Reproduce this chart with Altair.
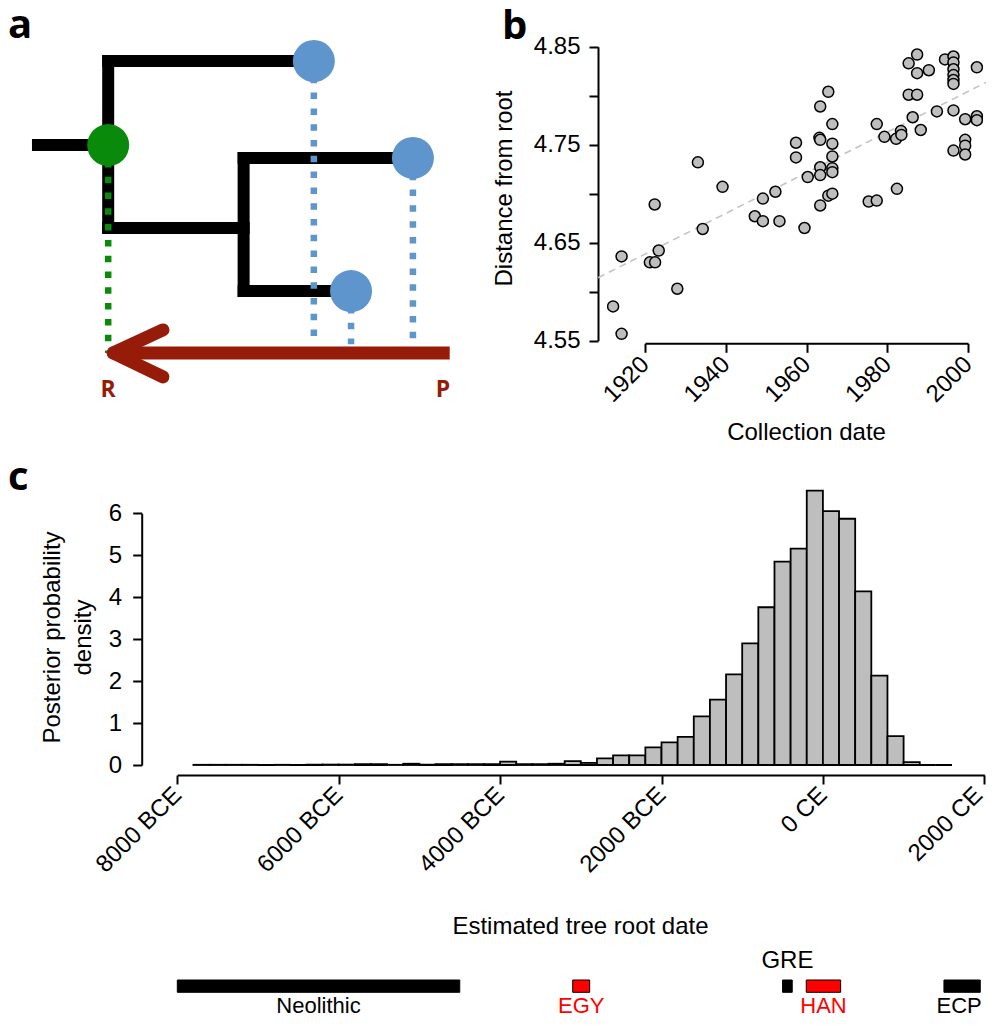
import altair as alt
import pandas as pd

W, H = 978, 1010
FONT = "Liberation Sans"
GREY = "#BEBEBE"
DARKRED = "#961B09"

# ---------------- panel a : schematic tree (abstract units) ----------------
branch_x1 = [0.15, 1.83, 1.83, 1.83, 5.07, 5.07, 5.07]
branch_x2 = [1.83, 1.83, 6.75, 5.07, 5.07, 9.12, 7.64]
branch_y1 = [2.88, 0.00, 0.00, 5.72, 3.32, 3.32, 7.88]
branch_y2 = [2.88, 5.72, 0.00, 5.72, 7.88, 3.32, 7.88]

node_x = [1.83, 6.75, 9.12, 7.64]
node_y = [2.88, 0.00, 3.32, 7.88]
node_kind = ["root", "tip", "tip", "tip"]
drop_end = [10.0, 9.7, 9.7, 9.7]

shaft_x1 = [10.0]
shaft_x2 = [1.95]
shaft_y = [10.0]
head_x1 = [1.95, 1.95]
head_x2 = [3.14, 3.14]
head_y1 = [10.0, 10.0]
head_y2 = [9.21, 10.82]

rp_text = ["R", "P"]
rp_x = [1.83, 9.84]
rp_y = [11.27, 11.27]

# ---------------- panel b : root-to-tip regression ----------------
b_year = [1912.1, 1914.2, 1914.2, 1922.4, 1921.2, 1922.5, 1923.4, 1928.0, 1933.1, 1934.3,
          1939.2, 1947.2, 1949.2, 1949.2, 1952.3, 1953.3, 1957.4, 1957.4, 1959.5, 1960.3,
          1963.4, 1963.2, 1963.4, 1963.4, 1963.4, 1963.4, 1965.4, 1965.4, 1966.4, 1966.4,
          1966.4, 1966.4, 1966.4, 1966.4, 1975.4, 1977.4, 1977.4, 1979.3, 1982.2, 1983.4,
          1983.5, 1982.4, 1985.3, 1987.4, 1985.3, 1987.4, 1987.4, 1990.3, 1986.3, 1988.3,
          1992.3, 1994.3, 1996.4, 1996.4, 1996.4, 1996.4, 1996.4, 1996.4, 1996.4, 1996.4,
          1999.3, 1999.3, 1999.3, 1999.3, 2002.2, 2002.2, 2002.2]
b_dist = [4.585, 4.557, 4.636, 4.689, 4.630, 4.630, 4.642, 4.603, 4.732, 4.664,
          4.707, 4.677, 4.695, 4.672, 4.702, 4.672, 4.752, 4.737, 4.665, 4.717,
          4.789, 4.757, 4.755, 4.727, 4.719, 4.688, 4.804, 4.698, 4.771, 4.751,
          4.738, 4.726, 4.722, 4.700, 4.692, 4.693, 4.771, 4.758, 4.756, 4.764,
          4.760, 4.705, 4.801, 4.801, 4.833, 4.842, 4.823, 4.826, 4.778, 4.765,
          4.784, 4.837, 4.840, 4.834, 4.827, 4.821, 4.816, 4.812, 4.785, 4.744,
          4.776, 4.755, 4.749, 4.740, 4.829, 4.779, 4.775]
fit_year = [1908.4, 2006.4]
fit_dist = [4.6143, 4.8176]
b_xticks = [1920, 1940, 1960, 1980, 2000]
b_yticks = [4.55, 4.60, 4.65, 4.70, 4.75, 4.80, 4.85]
b_ylabelled = ["4.55", "4.65", "4.75", "4.85"]

# ---------------- panel c : root date posterior ----------------
bin_start = [-7800, -7600, -7400, -7200, -7000, -6800, -6600, -6400, -6200, -6000,
             -5800, -5600, -5400, -5200, -5000, -4800, -4600, -4400, -4200, -4000,
             -3800, -3600, -3400, -3200, -3000, -2800, -2600, -2400, -2200, -2000,
             -1800, -1600, -1400, -1200, -1000, -800, -600, -400, -200, 0,
             200, 400, 600, 800, 1000, 1200, 1400]
density = [0.005, 0.005, 0.005, 0.005, 0.005, 0.005, 0.005, 0.01, 0.01, 0.01,
           0.02, 0.02, 0.005, 0.03, 0.01, 0.02, 0.02, 0.02, 0.02, 0.08,
           0.02, 0.02, 0.03, 0.09, 0.05, 0.16, 0.23, 0.23, 0.42, 0.54,
           0.67, 1.16, 1.56, 2.16, 2.90, 3.76, 4.85, 5.16, 6.54, 6.05,
           5.87, 4.14, 2.13, 0.69, 0.07, 0.0, 0.0]
bin_width = 200

period_name = ["Neolithic", "EGY", "GRE", "HAN", "ECP"]
period_start = [-8000, -3100, -500, -206, 1500]
period_end = [-4500, -2890, -380, 220, 1950]
period_group = ["other", "highlight", "other", "highlight", "other"]

c_xticks = [-8000, -6000, -4000, -2000, 0, 2000]
c_yticks = [0, 1, 2, 3, 4, 5, 6]

# ======================= panel a =======================
a_x = alt.Scale(domain=[0, 10], range=[23.7, 441.7], nice=False, zero=False, padding=0)
a_y = alt.Scale(domain=[0, 10], range=[53, 345], nice=False, zero=False, padding=0)
kind_col = alt.Scale(domain=["root", "tip"], range=["#0A8A0A", "#5E95CD"])

branches = pd.DataFrame({"x1": branch_x1, "x2": branch_x2, "y1": branch_y1, "y2": branch_y2})
nodes = pd.DataFrame({"x": node_x, "y": node_y, "kind": node_kind, "yend": drop_end})
shaft = pd.DataFrame({"x1": shaft_x1, "x2": shaft_x2, "y": shaft_y})
head = pd.DataFrame({"x1": head_x1, "x2": head_x2, "y1": head_y1, "y2": head_y2})
rp = pd.DataFrame({"t": rp_text, "x": rp_x, "y": rp_y})

tree = alt.Chart(branches).mark_rule(strokeWidth=12, strokeCap="square", color="black").encode(
    x=alt.X("x1:Q", scale=a_x, axis=None), x2="x2:Q",
    y=alt.Y("y1:Q", scale=a_y, axis=None), y2="y2:Q")
drops = alt.Chart(nodes).mark_rule(strokeWidth=6.5, strokeDash=[6.5, 9.3]).encode(
    x=alt.X("x:Q", scale=a_x, axis=None),
    y=alt.Y("y:Q", scale=a_y, axis=None), y2="yend:Q",
    color=alt.Color("kind:N", scale=kind_col, legend=None))
circles = alt.Chart(nodes).mark_circle(size=1764, opacity=1).encode(
    x=alt.X("x:Q", scale=a_x, axis=None),
    y=alt.Y("y:Q", scale=a_y, axis=None),
    color=alt.Color("kind:N", scale=kind_col, legend=None))
arrow_shaft = alt.Chart(shaft).mark_rule(strokeWidth=13, strokeCap="butt", color=DARKRED).encode(
    x=alt.X("x1:Q", scale=a_x, axis=None), x2="x2:Q",
    y=alt.Y("y:Q", scale=a_y, axis=None))
arrow_head = alt.Chart(head).mark_rule(strokeWidth=13, strokeCap="round", color=DARKRED).encode(
    x=alt.X("x1:Q", scale=a_x, axis=None), x2="x2:Q",
    y=alt.Y("y1:Q", scale=a_y, axis=None), y2="y2:Q")
rp_labels = alt.Chart(rp).mark_text(font="Open Sans", fontWeight="bold", fontSize=23,
                                    color=DARKRED, baseline="middle", align="center").encode(
    x=alt.X("x:Q", scale=a_x, axis=None),
    y=alt.Y("y:Q", scale=a_y, axis=None), text="t:N")
panel_a = alt.layer(tree, drops, circles, arrow_shaft, arrow_head, rp_labels)

# ======================= panel b =======================
b_x = alt.Scale(domain=[1920, 2000], range=[637, 960], nice=False, zero=False, padding=0)
b_y = alt.Scale(domain=[4.55, 4.85], range=[332.7, 38.7], nice=False, zero=False, padding=0)
b_x_axis = alt.Axis(orient="bottom", offset=335.3 - H, values=b_xticks,
                    format="d", labelAngle=-45, labelAlign="right", labelBaseline="middle",
                    labelPadding=8,
                    title="Collection date", titleX=798, titleY=89,
                    titleAlign="center", titleBaseline="middle")
lab_list = "[" + ",".join(f"'{s}'" for s in b_ylabelled) + "]"
b_y_axis = alt.Axis(orient="left", offset=-590, values=b_yticks,
                    labelExpr=f"indexof({lab_list}, format(datum.value, '.2f')) >= 0 ? format(datum.value, '.2f') : ''",
                    labelPadding=9,
                    title="Distance from root", titleAngle=270, titleX=-94, titleY=180,
                    titleAlign="center", titleBaseline="middle")
pts = pd.DataFrame({"year": b_year, "dist": b_dist})
fit = pd.DataFrame({"year": fit_year, "dist": fit_dist})

fit_line = alt.Chart(fit).mark_line(color="#C4C4C4", strokeDash=[7, 5], strokeWidth=1.6).encode(
    x=alt.X("year:Q", scale=b_x, axis=b_x_axis),
    y=alt.Y("dist:Q", scale=b_y, axis=b_y_axis))
points = alt.Chart(pts).mark_point(shape="circle", filled=True, fill=GREY, stroke="black",
                                   strokeWidth=1.5, size=121, opacity=1).encode(
    x=alt.X("year:Q", scale=b_x, axis=b_x_axis),
    y=alt.Y("dist:Q", scale=b_y, axis=b_y_axis))
panel_b = alt.layer(fit_line, points)

# ======================= panel c =======================
c_x = alt.Scale(domain=[-8000, 2000], range=[169.3, 976.3], nice=False, zero=False, padding=0)
c_y = alt.Scale(domain=[0, 6], range=[757, 505.3], nice=False, zero=False, padding=0)
c_x_axis = alt.Axis(orient="bottom", offset=767 - H, values=c_xticks,
                    labelExpr="datum.value < 0 ? (-datum.value) + ' BCE' : datum.value + ' CE'",
                    labelAngle=-45, labelAlign="right", labelBaseline="middle", labelPadding=7,
                    labelOffset={"condition": {"test": "datum.value == 2000", "value": -6}, "value": 0},
                    title="Estimated tree root date", titleX=572, titleY=151,
                    titleAlign="center", titleBaseline="middle")
c_y_axis = alt.Axis(orient="left", offset=-133.7, values=c_yticks,
                    format="d", labelPadding=11,
                    title=["Posterior probability", "density"], titleAngle=270,
                    titleX=-89, titleY=629, titleAlign="center", titleBaseline="middle",
                    titleLineHeight=31)
hist_df = pd.DataFrame({"start": bin_start, "density": density})
per_df = pd.DataFrame({"name": period_name, "start": period_start, "end": period_end,
                       "group": period_group})
grp_col = alt.Scale(domain=["other", "highlight"], range=["black", "#FF0000"])

hist = alt.Chart(hist_df).transform_calculate(end=f"datum.start + {bin_width}").mark_bar(
    fill=GREY, stroke="black", strokeWidth=1.8, opacity=1).encode(
    x=alt.X("start:Q", scale=c_x, axis=c_x_axis),
    x2="end:Q",
    y=alt.Y("density:Q", scale=c_y, axis=c_y_axis),
    y2=alt.datum(0))
periods = alt.Chart(per_df).mark_bar(stroke="black", strokeWidth=1, opacity=1).encode(
    x=alt.X("start:Q", scale=c_x, axis=c_x_axis), x2="end:Q",
    y=alt.value(972), y2=alt.value(984.3),
    color=alt.Color("group:N", scale=grp_col, legend=None))
per_text_base = alt.Chart(per_df).transform_calculate(mid="(datum.start + datum.end) / 2")

def period_text(filter_expr, y, size, dx=0):
    return per_text_base.transform_filter(filter_expr).mark_text(
        font=FONT, fontSize=size, baseline="alphabetic", align="center", dx=dx).encode(
        x=alt.X("mid:Q", scale=c_x, axis=c_x_axis), y=alt.value(y), text="name:N",
        color=alt.Color("group:N", scale=grp_col, legend=None))

per_labels = period_text("datum.name != 'GRE' && datum.name != 'ECP'", 1005, 22)
ecp_label = period_text("datum.name == 'ECP'", 1005, 22, dx=-3)
gre_label = period_text("datum.name == 'GRE'", 960, 24)
panel_c = alt.layer(hist, periods, per_labels, ecp_label, gre_label)

# ======================= panel letters =======================
letters_df = pd.DataFrame({"letter": ["a", "b", "c"]})
def letter(ch, x, y):
    return alt.Chart(letters_df).transform_filter(f"datum.letter == '{ch}'").mark_text(
        font="Open Sans", fontWeight="bold", fontSize=40, align="left", baseline="alphabetic",
        color="black").encode(text="letter:N", x=alt.value(x), y=alt.value(y))
letters = alt.layer(letter("a", 0, 30), letter("b", 494, 31), letter("c", 0, 482))

chart = alt.layer(panel_a, panel_b, panel_c, letters).resolve_scale(
    x="independent", y="independent", color="independent").resolve_axis(
    x="independent", y="independent").properties(
    width=W, height=H, autosize=alt.AutoSizeParams(type="none"), padding=0
).configure_view(stroke=None).configure_axis(
    domainColor="black", domainWidth=2, tickColor="black", tickWidth=2, tickSize=9,
    labelFont=FONT, labelFontSize=24, labelColor="black",
    titleFont=FONT, titleFontSize=24, titleFontWeight="normal", titleColor="black",
    grid=False, labelOverlap=False, labelFlush=False, labelBound=False)

chart.save("out.html", embed_options={"renderer": "svg", "actions": False})
